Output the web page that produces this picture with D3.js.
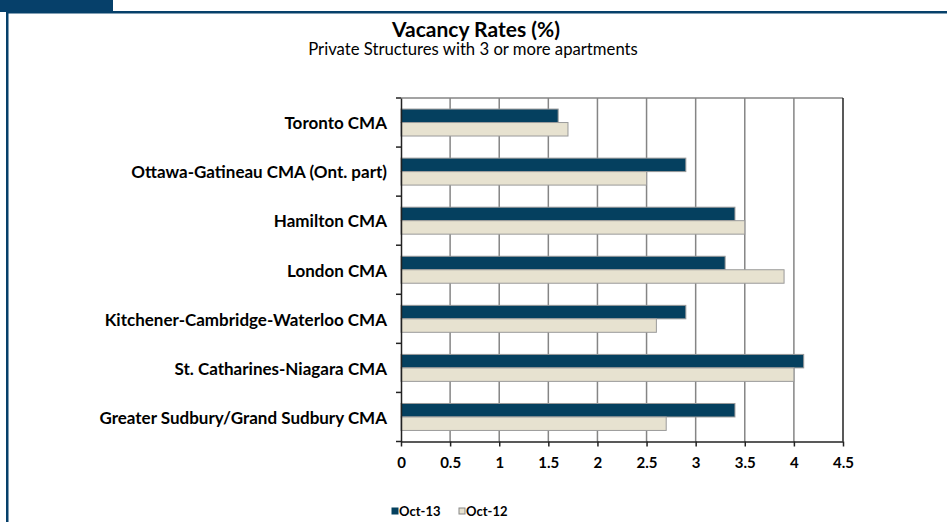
<!DOCTYPE html>
<html>
<head>
<meta charset="utf-8">
<script src="https://cdn.jsdelivr.net/npm/d3@7"></script>
<style>
  body { margin: 0; background: #fff; }
  svg { display: block; font-family: Lato, "Open Sans", sans-serif; }
</style>
</head>
<body>
<div id="chart"></div>
<script>
// data
const categories = [
  "Toronto CMA",
  "Ottawa-Gatineau CMA (Ont. part)",
  "Hamilton CMA",
  "London CMA",
  "Kitchener-Cambridge-Waterloo CMA",
  "St. Catharines-Niagara CMA",
  "Greater Sudbury/Grand Sudbury CMA"
];
const seriesNames = ["Oct-13", "Oct-12"];
const oct13 = [1.6, 2.9, 3.4, 3.3, 2.9, 4.1, 3.4];
const oct12 = [1.7, 2.5, 3.5, 3.9, 2.6, 4.0, 2.7];
const xTicks = [0, 0.5, 1, 1.5, 2, 2.5, 3, 3.5, 4, 4.5];

const W = 947, H = 522;
const navy = "#06406a";
const colors = { "Oct-13": "#05405f", "Oct-12": "#e7e2d0" };

const rows = categories.map((c, i) => ({ cat: c, "Oct-13": oct13[i], "Oct-12": oct12[i] }));

const svg = d3.select("#chart").append("svg")
  .attr("width", W)
  .attr("height", H);

// frame
svg.append("rect").attr("x", 0).attr("y", 0).attr("width", 113).attr("height", 12).attr("fill", navy);
svg.append("rect").attr("x", 6).attr("y", 11).attr("width", W - 6).attr("height", 2.5).attr("fill", navy);
svg.append("rect").attr("x", 6).attr("y", 11).attr("width", 2.5).attr("height", H - 11).attr("fill", navy);

// titles
svg.append("text")
  .attr("x", 476).attr("y", 37)
  .attr("text-anchor", "middle")
  .style("font-size", "21px").style("font-weight", "bold")
  .text("Vacancy Rates (%)");
svg.append("text")
  .attr("x", 473).attr("y", 55)
  .attr("text-anchor", "middle")
  .style("font-size", "16.7px")
  .text("Private Structures with 3 or more apartments");

const m = { left: 401, right: 843, top: 98, bottom: 441.5 };

const x = d3.scaleLinear().domain([0, 4.5]).range([m.left, m.right]);
const y = d3.scaleBand().domain(categories).range([m.top, m.bottom]).padding(0);
const ySub = d3.scaleBand().domain(seriesNames).range([0, y.bandwidth()])
  .paddingInner(0).paddingOuter(0.82);

// gridlines
svg.append("g")
  .selectAll("line")
  .data(xTicks.slice(1, -1))
  .join("line")
    .attr("x1", d => x(d)).attr("x2", d => x(d))
    .attr("y1", m.top).attr("y2", m.bottom)
    .attr("stroke", "#858585").attr("stroke-width", 1.5);
svg.append("line")
  .attr("x1", m.left).attr("x2", m.right)
  .attr("y1", m.top).attr("y2", m.top)
  .attr("stroke", "#858585").attr("stroke-width", 1.5);
svg.append("line")
  .attr("x1", m.right).attr("x2", m.right)
  .attr("y1", m.top).attr("y2", m.bottom)
  .attr("stroke", "#222").attr("stroke-width", 1.5);

// bars
const groups = svg.append("g")
  .selectAll("g")
  .data(rows)
  .join("g")
    .attr("transform", d => `translate(0,${y(d.cat)})`);

groups.selectAll("rect")
  .data(d => seriesNames.map(k => ({ key: k, value: d[k] })))
  .join("rect")
    .attr("x", x(0))
    .attr("y", d => ySub(d.key))
    .attr("width", d => x(d.value) - x(0))
    .attr("height", ySub.bandwidth())
    .attr("fill", d => colors[d.key])
    .attr("stroke", "#9a9a9a")
    .attr("stroke-width", 1);

// x axis
const xAxis = svg.append("g")
  .attr("transform", `translate(0,${m.bottom})`)
  .call(d3.axisBottom(x).tickValues(xTicks).tickSize(5).tickSizeOuter(0).tickFormat(d => d));
xAxis.select(".domain").attr("stroke", "#222").attr("stroke-width", 1.5);
xAxis.selectAll(".tick line").attr("stroke", "#222").attr("stroke-width", 1.5);
xAxis.selectAll(".tick text")
  .attr("y", 16)
  .style("font-size", "15px").style("font-weight", "bold")
  .style("font-family", "Lato, sans-serif")
  .attr("fill", "#000");

// y axis
const yAxis = svg.append("g")
  .attr("transform", `translate(${m.left},0)`)
  .call(d3.axisLeft(y).tickSize(0).tickPadding(14));
yAxis.select(".domain").attr("stroke", "#222").attr("stroke-width", 1.5);
yAxis.selectAll(".tick text")
  .attr("dy", "0.4em")
  .style("font-size", "17px").style("font-weight", "bold")
  .style("font-family", "Lato, sans-serif")
  .attr("fill", "#000");

// category boundary ticks
svg.append("g")
  .selectAll("line")
  .data(d3.range(categories.length + 1))
  .join("line")
    .attr("x1", m.left - 5).attr("x2", m.left)
    .attr("y1", i => m.top + i * y.step()).attr("y2", i => m.top + i * y.step())
    .attr("stroke", "#222").attr("stroke-width", 1.5);

// legend
const legend = svg.append("g").attr("transform", "translate(392,511)");
const items = legend.selectAll("g")
  .data(seriesNames)
  .join("g")
    .attr("transform", (d, i) => `translate(${i * 67},0)`);
items.append("rect")
  .attr("x", 0).attr("y", -3).attr("width", 6).attr("height", 6)
  .attr("fill", d => colors[d])
  .attr("stroke", d => d === "Oct-12" ? "#888" : colors[d]);
items.append("text")
  .attr("x", 7).attr("y", 4.5)
  .style("font-size", "13px").style("font-weight", "bold")
  .text(d => d);
</script>
</body>
</html>
